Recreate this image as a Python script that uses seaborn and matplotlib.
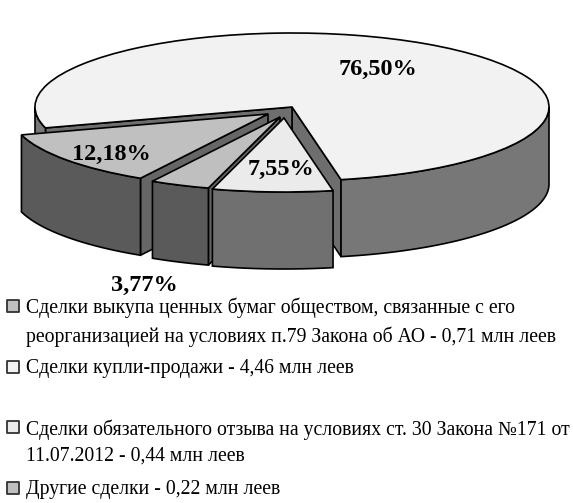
import numpy as np
import matplotlib
matplotlib.use("Agg")
import matplotlib.pyplot as plt
from matplotlib.transforms import Affine2D
import seaborn as sns

# данные
shares = [76.50, 12.18, 3.77, 7.55]
legend_labels = [
    "Сделки выкупа ценных бумаг обществом, связанные с его\nреорганизацией на условиях п.79 Закона об АО - 0,71 млн леев",
    "Сделки купли-продажи - 4,46 млн леев",
    "Сделки обязательного отзыва на условиях ст. 30 Закона №171 от\n11.07.2012 - 0,44 млн леев",
    "Другие сделки - 0,22 млн леев",
]

# стиль и раскладка (в пикселях картинки)
top_colors = ["#f2f2f2", "#c0c0c0", "#bfbfbf", "#ebebeb"]
side_colors = ["#777777", "#5a5a5a", "#5a5a5a", "#707070"]
cut_colors = ["#6e6e6e", "#666666", "#666666", "#707070"]
legend_colors = ["#c0c0c0", "#f2f2f2", "#ebebeb", "#bfbfbf"]
offsets = [(0, 0), (-24, 7), (-12, 10), (-8, 11)]
label_xy = [(378, 69), (111, 154), (144, 285), (281, 169)]
legend_y = [306, 367, 427, 488]
CX, CY, RX, RY, DEPTH = 292, 107, 257, 74, 77

sns.set_theme(style="white")
plt.rcParams["font.family"] = ["Liberation Serif", "DejaVu Sans"]

fig = plt.figure(figsize=(5.73, 5.03), dpi=100)
ax = fig.add_axes([0, 0, 1, 1])

wedges, _ = ax.pie(shares, startangle=-79, counterclock=True, radius=1)


def rim(theta, dx, dy, depth=0):
    t = np.radians(theta)
    return CX + dx + RX * np.cos(t), CY + dy - RY * np.sin(t) + depth


z = 2
for wedge, top, side, cut, (dx, dy) in zip(wedges, top_colors, side_colors, cut_colors, offsets):
    t1, t2 = wedge.theta1, wedge.theta2
    # срезы
    for t, visible in ((t1, np.cos(np.radians(t1)) > 0), (t2, np.cos(np.radians(t2)) < 0)):
        if visible:
            x, y = rim(t, dx, dy)
            ax.fill([CX + dx, x, x, CX + dx],
                    [CY + dy, y, y + DEPTH, CY + dy + DEPTH],
                    facecolor=cut, edgecolor="black", linewidth=1.2, zorder=z, clip_on=False)
            z += 1
    # внешняя стенка
    for k in (-1, 0, 1):
        lo, hi = max(t1, 180 + 360 * k), min(t2, 360 + 360 * k)
        if lo < hi:
            th = np.linspace(lo, hi, 120)
            x, y = rim(th, dx, dy)
            ax.fill(np.r_[x, x[::-1]], np.r_[y, y[::-1] + DEPTH],
                    facecolor=side, edgecolor="black", linewidth=1.2, zorder=z, clip_on=False)
            z += 1
    # верх сектора
    wedge.set_transform(Affine2D().scale(RX, -RY).translate(CX + dx, CY + dy) + ax.transData)
    wedge.set(facecolor=top, edgecolor="black", linewidth=1.2, zorder=z, clip_on=False)
    z += 1

for value, (x, y) in zip(shares, label_xy):
    ax.text(x, y, f"{value:.2f}%".replace(".", ","), ha="center", va="center",
            fontsize=17.5, fontweight="bold", color="black", zorder=z)

# легенда
sns.scatterplot(x=[13] * len(legend_y), y=legend_y, hue=legend_labels, palette=legend_colors,
                marker="s", s=75, edgecolor="#333333", linewidth=1.3, legend=False, ax=ax, zorder=z)
for label, y in zip(legend_labels, legend_y):
    ax.text(25.5, y - 8, label, ha="left", va="top", fontsize=14.2, linespacing=1.52,
            color="black", zorder=z)

ax.set_aspect("auto")
ax.set_xlim(0, 573)
ax.set_ylim(503, 0)
ax.axis("off")
fig.savefig("out.png", dpi=100)
